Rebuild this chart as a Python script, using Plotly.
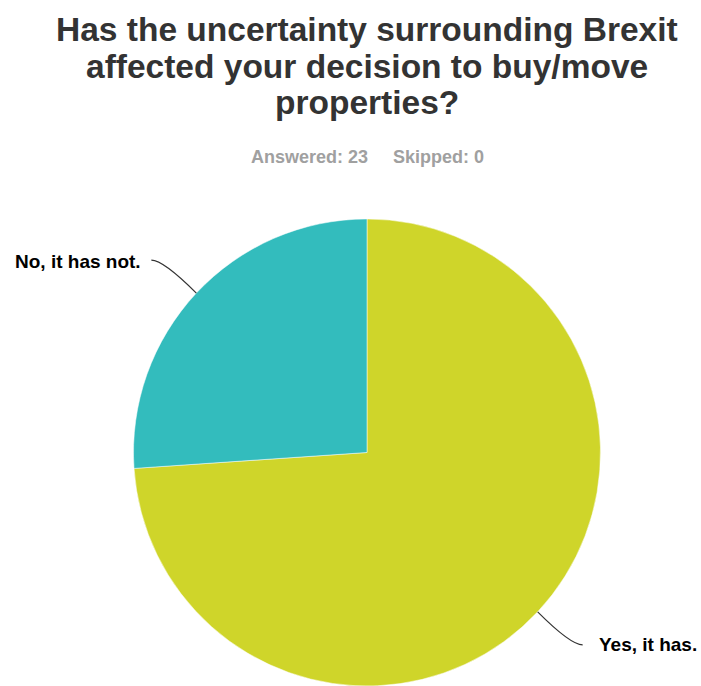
import math
import plotly.graph_objects as go

# Survey responses
answers = ["Yes, it has.", "No, it has not."]
counts = [17, 6]
colors = ["#CFD52A", "#33BCBD"]
skipped = 0

title_lines = [
    "Has the uncertainty surrounding Brexit",
    "affected your decision to buy/move",
    "properties?",
]

FONT = "Arial"
W, H = 701, 686
dom_x = [132 / W, 602 / W]
dom_y = [0.0, 0.6808]

fig = go.Figure(
    go.Pie(
        labels=answers,
        values=counts,
        sort=False,
        direction="clockwise",
        rotation=0,
        marker=dict(colors=colors, line=dict(color="white", width=0.5)),
        textinfo="none",
        hoverinfo="label+value+percent",
        domain=dict(x=dom_x, y=dom_y),
        showlegend=False,
    )
)

# Pie geometry in pixels (radius set by the narrower side of the domain)
cx = (dom_x[0] + dom_x[1]) / 2 * W
cy = (1 - (dom_y[0] + dom_y[1]) / 2) * H
r = min((dom_x[1] - dom_x[0]) * W, (dom_y[1] - dom_y[0]) * H) / 2


def px2paper(x, y):
    return x / W, 1 - y / H


total = sum(counts)
start = 0.0
shapes = []
annotations = []
for label, v in zip(answers, counts):
    frac = v / total
    mid = start + frac / 2
    start += frac
    # slices run clockwise from 12 o'clock
    ang = 2 * math.pi * mid
    ex = cx + r * math.sin(ang)
    ey = cy - r * math.cos(ang)
    side = 1 if math.sin(ang) > 0 else -1
    dy = 1 if math.cos(ang) < 0 else -1
    # leader line: outward diagonal that flattens out next to the text
    tx = ex + side * 45
    ty = ey + dy * 33
    kx = tx - side * 12
    x0, y0 = px2paper(ex, ey)
    qx, qy = px2paper(kx, ty)
    x1, y1 = px2paper(tx, ty)
    shapes.append(
        dict(
            type="path",
            xref="paper",
            yref="paper",
            path=f"M {x0},{y0} Q {qx},{qy} {x1},{y1}",
            line=dict(color="#333333", width=1.2),
        )
    )
    gap = 14 if side > 0 else 8
    lx, ly = px2paper(tx + side * gap, ty + (1 if side < 0 else 0))
    annotations.append(
        dict(
            text=f"<b>{label}</b>",
            x=lx,
            y=ly,
            xref="paper",
            yref="paper",
            xanchor="left" if side > 0 else "right",
            yanchor="middle",
            showarrow=False,
            font=dict(family=FONT, size=19, color="#000000"),
        )
    )

# Title lines
title_y = [29.5, 66.5, 103]
for line, yy in zip(title_lines, title_y):
    annotations.append(
        dict(
            text=f"<b>{line}</b>",
            x=cx / W,
            y=1 - yy / H,
            xref="paper",
            yref="paper",
            xanchor="center",
            yanchor="middle",
            showarrow=False,
            font=dict(family=FONT, size=33.5, color="#333333"),
        )
    )

annotations.append(
    dict(
        text=f"<b>Answered: {total}&nbsp;&nbsp;&nbsp;&nbsp;&nbsp;Skipped: {skipped}</b>",
        x=cx / W,
        y=1 - 157 / H,
        xref="paper",
        yref="paper",
        xanchor="center",
        yanchor="middle",
        showarrow=False,
        font=dict(family=FONT, size=18, color="#A0A0A0"),
    )
)

fig.update_layout(
    width=W,
    height=H,
    margin=dict(l=0, r=0, t=0, b=0),
    paper_bgcolor="white",
    plot_bgcolor="white",
    font=dict(family=FONT),
    shapes=shapes,
    annotations=annotations,
)

fig.write_html("out.html")
